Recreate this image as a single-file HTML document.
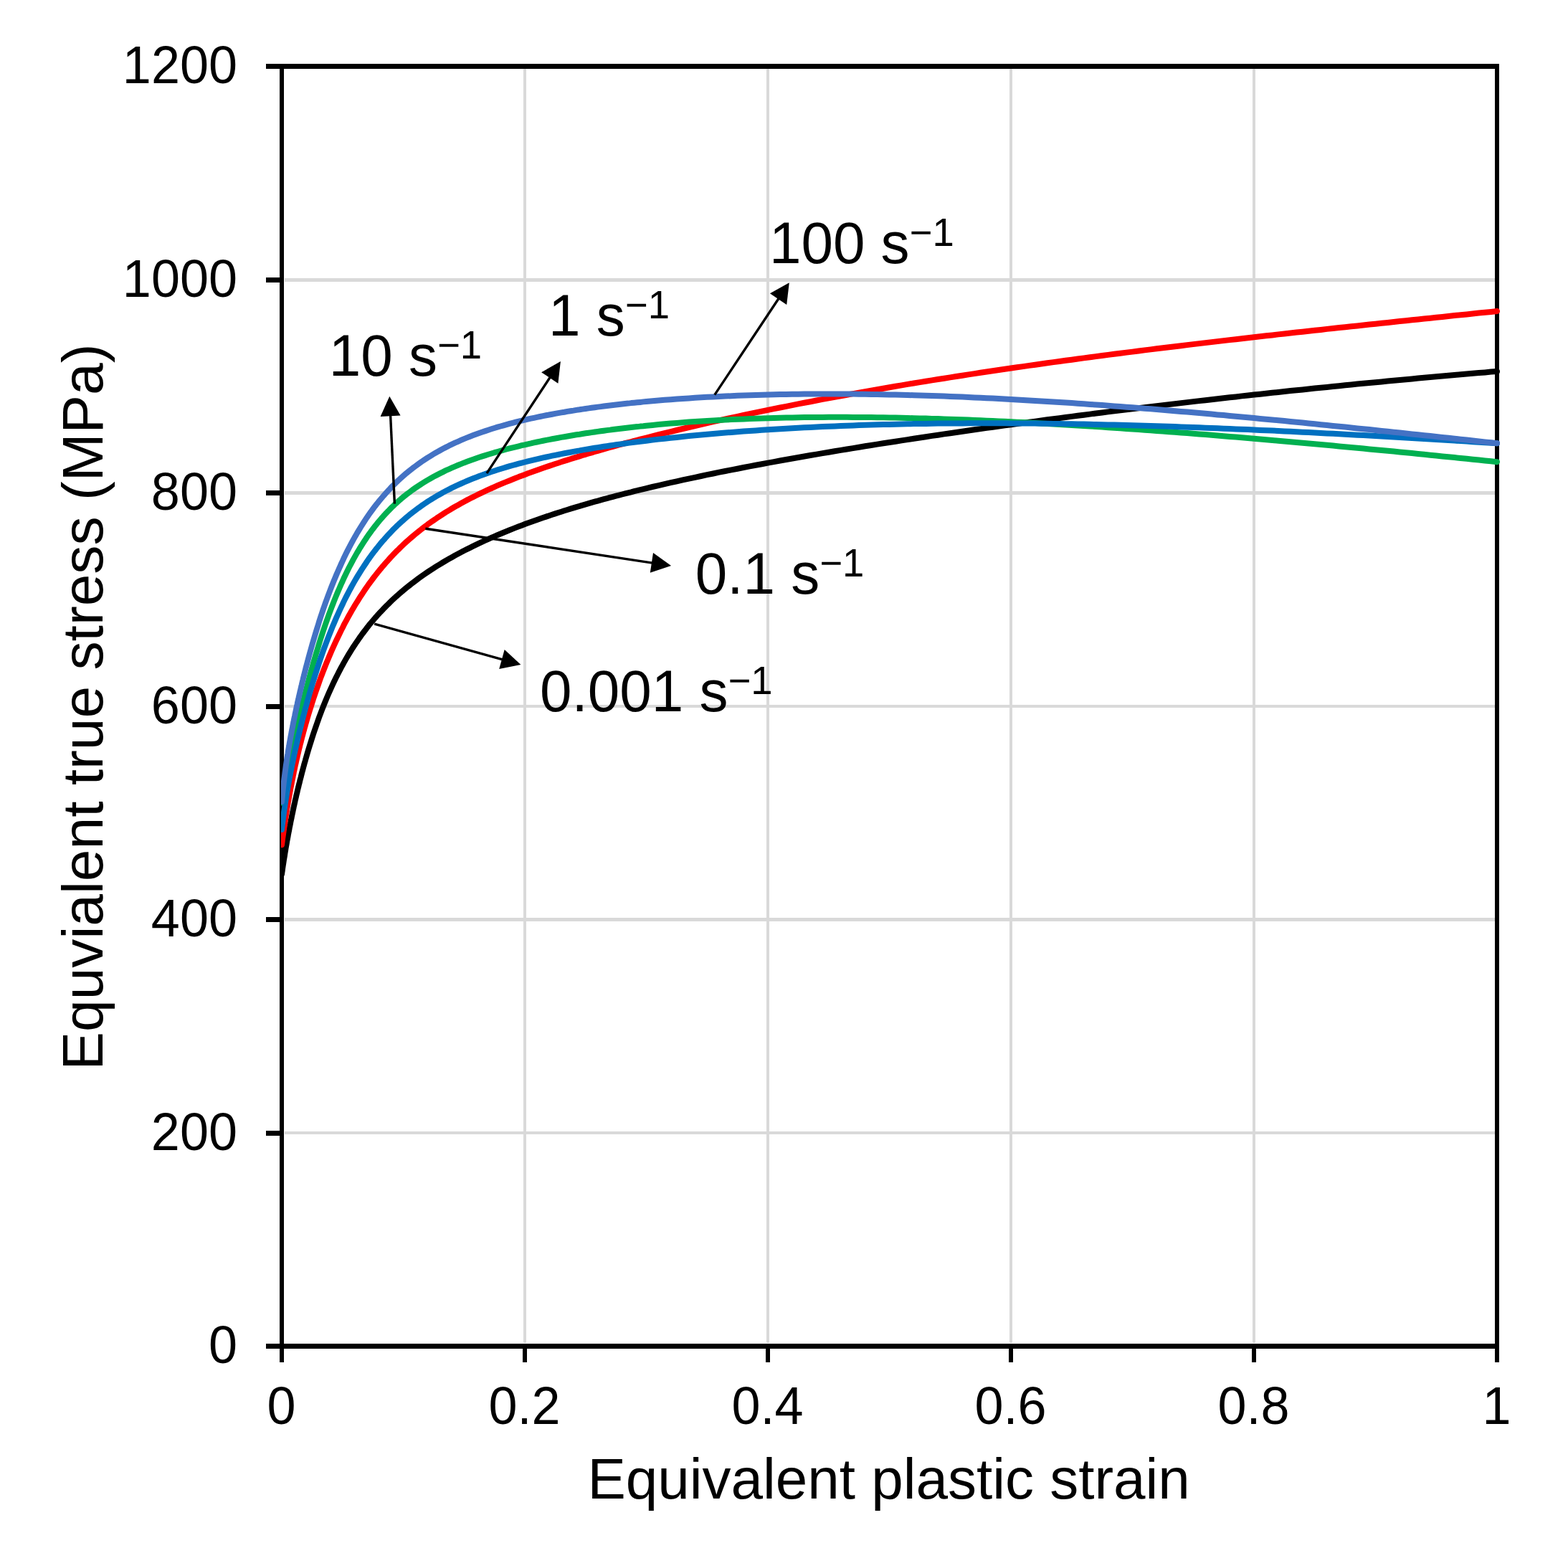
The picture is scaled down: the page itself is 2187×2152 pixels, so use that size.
<!DOCTYPE html>
<html lang="en"><head><meta charset="utf-8"><title>Equivalent true stress vs equivalent plastic strain</title>
<style>html,body{margin:0;padding:0;background:#fff}svg{display:block}text{font-family:"Liberation Sans",Arial,Helvetica,sans-serif;fill:#000}</style></head><body>
<svg xmlns="http://www.w3.org/2000/svg" width="2187" height="2152" viewBox="0 0 2187 2152">
<rect width="2187" height="2152" fill="#fff"/>
<g fill="#D9D9D9">
<rect x="397" y="1578" width="1688" height="4"/>
<rect x="397" y="1280" width="1688" height="5"/>
<rect x="397" y="983" width="1688" height="4"/>
<rect x="397" y="685" width="1688" height="5"/>
<rect x="397" y="388" width="1688" height="5"/>
<rect x="730" y="96" width="4" height="1777"/>
<rect x="1069" y="96" width="4" height="1777"/>
<rect x="1408" y="96" width="4" height="1777"/>
<rect x="1747" y="96" width="4" height="1777"/>
</g>
<g fill="#000">
<rect x="390" y="89" width="1701" height="7"/>
<rect x="390" y="1874" width="1701" height="7"/>
<rect x="390" y="89" width="6" height="1792"/>
<rect x="2085" y="89" width="6" height="1792"/>
<rect x="371" y="1874" width="20" height="7"/>
<rect x="371" y="1577" width="20" height="7"/>
<rect x="371" y="1279" width="20" height="7"/>
<rect x="371" y="982" width="20" height="7"/>
<rect x="371" y="684" width="20" height="7"/>
<rect x="371" y="387" width="20" height="7"/>
<rect x="371" y="89" width="20" height="7"/>
<rect x="390" y="1880" width="6" height="20"/>
<rect x="729" y="1880" width="6" height="20"/>
<rect x="1068" y="1880" width="6" height="20"/>
<rect x="1407" y="1880" width="6" height="20"/>
<rect x="1746" y="1880" width="6" height="20"/>
<rect x="2085" y="1880" width="6" height="20"/>
</g>
<clipPath id="c"><rect x="392" y="80" width="1710" height="1800"/></clipPath>
<g fill="none" stroke-width="8.0" stroke-linejoin="round" stroke-linecap="round" clip-path="url(#c)">
<path stroke="#000000" d="M393.0 1219.1 L393.6 1215.2 L394.1 1211.3 L394.7 1207.5 L395.3 1203.7 L395.8 1200.1 L396.4 1196.5 L397.0 1193.0 L397.5 1189.5 L398.1 1186.1 L398.6 1182.7 L399.2 1179.5 L399.8 1176.2 L400.3 1173.0 L400.9 1169.9 L401.5 1166.8 L402.0 1163.7 L402.6 1160.7 L403.2 1157.7 L403.7 1154.8 L404.3 1151.9 L404.9 1149.0 L405.4 1146.1 L406.0 1143.3 L406.6 1140.6 L407.1 1137.8 L407.7 1135.1 L408.3 1132.4 L408.8 1129.8 L409.4 1127.2 L409.9 1124.6 L410.5 1122.0 L411.1 1119.4 L411.6 1116.9 L412.2 1114.4 L412.8 1111.9 L413.3 1109.5 L413.9 1107.1 L414.5 1104.7 L415.0 1102.3 L415.6 1099.9 L416.2 1097.6 L416.7 1095.3 L417.3 1093.0 L417.9 1090.7 L418.4 1088.4 L419.0 1086.2 L419.6 1084.0 L420.1 1081.8 L420.7 1079.6 L421.2 1077.4 L421.8 1075.3 L422.4 1073.2 L422.9 1071.1 L423.5 1069.0 L424.1 1066.9 L424.6 1064.8 L425.2 1062.8 L425.8 1060.8 L426.3 1058.8 L426.9 1056.8 L428.6 1050.9 L430.3 1045.2 L432.0 1039.6 L433.7 1034.2 L435.4 1028.8 L437.1 1023.6 L438.8 1018.5 L440.5 1013.6 L442.2 1008.7 L443.9 1003.9 L445.5 999.3 L447.2 994.8 L448.9 990.3 L450.6 986.0 L452.3 981.7 L454.0 977.6 L455.7 973.5 L457.4 969.5 L459.1 965.6 L460.8 961.8 L462.5 958.1 L464.2 954.4 L465.9 950.8 L467.6 947.3 L469.3 943.8 L471.0 940.5 L472.7 937.2 L474.4 933.9 L476.1 930.7 L477.8 927.6 L479.4 924.6 L481.1 921.6 L482.8 918.6 L484.5 915.7 L486.2 912.9 L487.9 910.1 L489.6 907.4 L491.3 904.7 L493.0 902.0 L494.7 899.5 L496.4 896.9 L498.1 894.4 L499.8 892.0 L501.5 889.5 L503.2 887.2 L504.9 884.8 L506.6 882.5 L508.3 880.3 L510.0 878.1 L511.6 875.9 L513.3 873.7 L515.0 871.6 L516.7 869.5 L518.4 867.5 L520.1 865.5 L521.8 863.5 L523.5 861.5 L525.2 859.6 L526.9 857.7 L528.6 855.8 L530.3 854.0 L532.0 852.2 L533.7 850.4 L535.4 848.6 L537.1 846.9 L538.8 845.2 L540.5 843.5 L542.2 841.8 L543.9 840.1 L545.5 838.5 L547.2 836.9 L548.9 835.3 L550.6 833.8 L552.3 832.2 L554.0 830.7 L555.7 829.2 L557.4 827.7 L559.1 826.3 L560.8 824.8 L562.5 823.4 L566.7 819.9 L571.0 816.5 L575.2 813.2 L579.5 810.0 L583.7 806.8 L587.9 803.8 L592.2 800.8 L596.4 797.9 L600.6 795.1 L604.9 792.4 L609.1 789.7 L613.4 787.1 L617.6 784.5 L621.8 782.0 L626.1 779.6 L630.3 777.2 L634.5 774.8 L638.8 772.5 L643.0 770.3 L647.2 768.0 L651.5 765.9 L655.7 763.8 L660.0 761.7 L664.2 759.6 L668.4 757.6 L672.7 755.6 L676.9 753.7 L681.1 751.8 L685.4 749.9 L689.6 748.1 L693.9 746.2 L698.1 744.5 L702.3 742.7 L706.6 741.0 L710.8 739.3 L715.0 737.6 L719.3 735.9 L723.5 734.3 L727.8 732.7 L732.0 731.1 L736.2 729.5 L740.5 728.0 L744.7 726.5 L749.0 725.0 L753.2 723.5 L757.4 722.0 L761.7 720.6 L765.9 719.2 L770.1 717.8 L774.4 716.4 L778.6 715.0 L782.8 713.7 L787.1 712.3 L791.3 711.0 L795.6 709.7 L799.8 708.4 L804.0 707.1 L808.3 705.9 L812.5 704.6 L816.8 703.4 L821.0 702.2 L825.2 700.9 L829.5 699.7 L833.7 698.6 L837.9 697.4 L842.2 696.2 L846.4 695.1 L850.7 693.9 L854.9 692.8 L859.1 691.7 L863.4 690.6 L867.6 689.5 L871.8 688.4 L876.1 687.3 L880.3 686.3 L884.5 685.2 L888.8 684.2 L893.0 683.1 L897.3 682.1 L901.5 681.1 L910.0 679.0 L918.5 677.1 L926.9 675.1 L935.4 673.2 L943.9 671.3 L952.3 669.4 L960.8 667.6 L969.3 665.8 L977.8 664.0 L986.2 662.2 L994.7 660.5 L1003.2 658.7 L1011.7 657.0 L1020.1 655.3 L1028.6 653.7 L1037.1 652.0 L1045.6 650.4 L1054.1 648.8 L1062.5 647.2 L1071.0 645.6 L1079.5 644.1 L1087.9 642.5 L1096.4 641.0 L1104.9 639.5 L1113.4 638.0 L1121.8 636.5 L1130.3 635.0 L1138.8 633.6 L1147.3 632.1 L1155.8 630.7 L1164.2 629.3 L1172.7 627.9 L1181.2 626.5 L1189.7 625.1 L1198.1 623.7 L1206.6 622.3 L1215.1 621.0 L1223.5 619.6 L1232.0 618.3 L1240.5 617.0 L1249.0 615.7 L1257.5 614.4 L1265.9 613.1 L1274.4 611.8 L1282.9 610.5 L1291.3 609.2 L1299.8 607.9 L1308.3 606.7 L1316.8 605.4 L1325.2 604.2 L1333.7 603.0 L1342.2 601.7 L1350.7 600.5 L1359.2 599.3 L1367.6 598.1 L1376.1 596.9 L1384.6 595.7 L1393.0 594.5 L1401.5 593.4 L1410.0 592.2 L1418.5 591.0 L1427.0 589.9 L1435.4 588.7 L1443.9 587.6 L1452.4 586.5 L1460.8 585.3 L1469.3 584.2 L1477.8 583.1 L1486.3 582.0 L1494.8 580.9 L1503.2 579.8 L1511.7 578.7 L1520.2 577.6 L1528.6 576.5 L1537.1 575.5 L1545.6 574.4 L1554.1 573.3 L1562.5 572.3 L1571.0 571.2 L1579.5 570.2 L1588.0 569.2 L1596.5 568.1 L1604.9 567.1 L1613.4 566.1 L1621.9 565.1 L1630.3 564.1 L1638.8 563.1 L1647.3 562.1 L1655.8 561.1 L1664.2 560.1 L1672.7 559.1 L1681.2 558.2 L1689.7 557.2 L1698.2 556.2 L1706.6 555.3 L1715.1 554.3 L1723.6 553.4 L1732.0 552.4 L1740.5 551.5 L1749.0 550.6 L1757.5 549.7 L1766.0 548.7 L1774.4 547.8 L1782.9 546.9 L1791.4 546.0 L1799.9 545.1 L1808.3 544.2 L1816.8 543.4 L1825.3 542.5 L1833.8 541.6 L1842.2 540.7 L1850.7 539.9 L1859.2 539.0 L1867.7 538.2 L1876.1 537.3 L1884.6 536.5 L1893.1 535.6 L1901.5 534.8 L1910.0 534.0 L1918.5 533.2 L1927.0 532.4 L1935.4 531.6 L1943.9 530.8 L1952.4 530.0 L1960.9 529.2 L1969.3 528.4 L1977.8 527.6 L1986.3 526.8 L1994.8 526.1 L2003.2 525.3 L2011.7 524.5 L2020.2 523.8 L2028.7 523.0 L2037.1 522.3 L2045.6 521.5 L2054.1 520.8 L2062.6 520.1 L2071.1 519.4 L2079.5 518.6 L2088.0 517.9"/>
<path stroke="#FF0000" d="M393.0 1178.2 L393.6 1173.9 L394.1 1169.7 L394.7 1165.5 L395.3 1161.5 L395.8 1157.5 L396.4 1153.6 L397.0 1149.7 L397.5 1146.0 L398.1 1142.2 L398.6 1138.6 L399.2 1135.0 L399.8 1131.5 L400.3 1128.0 L400.9 1124.6 L401.5 1121.3 L402.0 1118.0 L402.6 1114.7 L403.2 1111.5 L403.7 1108.4 L404.3 1105.3 L404.9 1102.2 L405.4 1099.2 L406.0 1096.2 L406.6 1093.3 L407.1 1090.4 L407.7 1087.6 L408.3 1084.7 L408.8 1082.0 L409.4 1079.2 L409.9 1076.5 L410.5 1073.8 L411.1 1071.2 L411.6 1068.6 L412.2 1066.0 L412.8 1063.5 L413.3 1061.0 L413.9 1058.5 L414.5 1056.0 L415.0 1053.6 L415.6 1051.2 L416.2 1048.8 L416.7 1046.4 L417.3 1044.1 L417.9 1041.8 L418.4 1039.5 L419.0 1037.3 L419.6 1035.0 L420.1 1032.8 L420.7 1030.6 L421.2 1028.4 L421.8 1026.3 L422.4 1024.2 L422.9 1022.1 L423.5 1020.0 L424.1 1017.9 L424.6 1015.8 L425.2 1013.8 L425.8 1011.8 L426.3 1009.8 L426.9 1007.8 L428.6 1001.9 L430.3 996.2 L432.0 990.6 L433.7 985.2 L435.4 979.8 L437.1 974.6 L438.8 969.5 L440.5 964.5 L442.2 959.6 L443.9 954.8 L445.5 950.2 L447.2 945.5 L448.9 941.0 L450.6 936.6 L452.3 932.2 L454.0 928.0 L455.7 923.8 L457.4 919.7 L459.1 915.6 L460.8 911.6 L462.5 907.7 L464.2 903.9 L465.9 900.1 L467.6 896.4 L469.3 892.8 L471.0 889.2 L472.7 885.7 L474.4 882.2 L476.1 878.8 L477.8 875.5 L479.4 872.2 L481.1 868.9 L482.8 865.8 L484.5 862.6 L486.2 859.5 L487.9 856.5 L489.6 853.5 L491.3 850.6 L493.0 847.7 L494.7 844.8 L496.4 842.0 L498.1 839.3 L499.8 836.6 L501.5 833.9 L503.2 831.2 L504.9 828.7 L506.6 826.1 L508.3 823.6 L510.0 821.1 L511.6 818.7 L513.3 816.3 L515.0 813.9 L516.7 811.6 L518.4 809.3 L520.1 807.0 L521.8 804.8 L523.5 802.6 L525.2 800.4 L526.9 798.3 L528.6 796.2 L530.3 794.1 L532.0 792.1 L533.7 790.0 L535.4 788.1 L537.1 786.1 L538.8 784.2 L540.5 782.3 L542.2 780.4 L543.9 778.5 L545.5 776.7 L547.2 774.9 L548.9 773.1 L550.6 771.4 L552.3 769.6 L554.0 767.9 L555.7 766.3 L557.4 764.6 L559.1 762.9 L560.8 761.3 L562.5 759.7 L566.7 755.8 L571.0 752.0 L575.2 748.4 L579.5 744.8 L583.7 741.4 L587.9 738.0 L592.2 734.8 L596.4 731.6 L600.6 728.6 L604.9 725.6 L609.1 722.7 L613.4 719.9 L617.6 717.1 L621.8 714.4 L626.1 711.8 L630.3 709.3 L634.5 706.8 L638.8 704.4 L643.0 702.0 L647.2 699.7 L651.5 697.4 L655.7 695.2 L660.0 693.1 L664.2 691.0 L668.4 688.9 L672.7 686.8 L676.9 684.9 L681.1 682.9 L685.4 681.0 L689.6 679.1 L693.9 677.2 L698.1 675.4 L702.3 673.6 L706.6 671.9 L710.8 670.2 L715.0 668.5 L719.3 666.8 L723.5 665.1 L727.8 663.5 L732.0 661.9 L736.2 660.3 L740.5 658.8 L744.7 657.3 L749.0 655.7 L753.2 654.2 L757.4 652.8 L761.7 651.3 L765.9 649.9 L770.1 648.5 L774.4 647.0 L778.6 645.7 L782.8 644.3 L787.1 642.9 L791.3 641.6 L795.6 640.2 L799.8 638.9 L804.0 637.6 L808.3 636.3 L812.5 635.0 L816.8 633.8 L821.0 632.5 L825.2 631.3 L829.5 630.0 L833.7 628.8 L837.9 627.6 L842.2 626.4 L846.4 625.2 L850.7 624.0 L854.9 622.9 L859.1 621.7 L863.4 620.5 L867.6 619.4 L871.8 618.2 L876.1 617.1 L880.3 616.0 L884.5 614.9 L888.8 613.8 L893.0 612.7 L897.3 611.6 L901.5 610.5 L910.0 608.3 L918.5 606.2 L926.9 604.1 L935.4 602.1 L943.9 600.0 L952.3 598.0 L960.8 596.0 L969.3 594.0 L977.8 592.1 L986.2 590.1 L994.7 588.2 L1003.2 586.3 L1011.7 584.5 L1020.1 582.6 L1028.6 580.8 L1037.1 579.0 L1045.6 577.2 L1054.1 575.4 L1062.5 573.7 L1071.0 571.9 L1079.5 570.2 L1087.9 568.5 L1096.4 566.8 L1104.9 565.1 L1113.4 563.4 L1121.8 561.8 L1130.3 560.2 L1138.8 558.5 L1147.3 556.9 L1155.8 555.4 L1164.2 553.8 L1172.7 552.2 L1181.2 550.7 L1189.7 549.1 L1198.1 547.6 L1206.6 546.1 L1215.1 544.6 L1223.5 543.2 L1232.0 541.7 L1240.5 540.2 L1249.0 538.8 L1257.5 537.4 L1265.9 535.9 L1274.4 534.5 L1282.9 533.1 L1291.3 531.8 L1299.8 530.4 L1308.3 529.0 L1316.8 527.7 L1325.2 526.4 L1333.7 525.0 L1342.2 523.7 L1350.7 522.4 L1359.2 521.1 L1367.6 519.8 L1376.1 518.5 L1384.6 517.3 L1393.0 516.0 L1401.5 514.8 L1410.0 513.5 L1418.5 512.3 L1427.0 511.1 L1435.4 509.9 L1443.9 508.7 L1452.4 507.5 L1460.8 506.3 L1469.3 505.1 L1477.8 504.0 L1486.3 502.8 L1494.8 501.7 L1503.2 500.5 L1511.7 499.4 L1520.2 498.3 L1528.6 497.1 L1537.1 496.0 L1545.6 494.9 L1554.1 493.8 L1562.5 492.7 L1571.0 491.6 L1579.5 490.6 L1588.0 489.5 L1596.5 488.4 L1604.9 487.4 L1613.4 486.3 L1621.9 485.3 L1630.3 484.2 L1638.8 483.2 L1647.3 482.2 L1655.8 481.1 L1664.2 480.1 L1672.7 479.1 L1681.2 478.1 L1689.7 477.1 L1698.2 476.1 L1706.6 475.1 L1715.1 474.1 L1723.6 473.2 L1732.0 472.2 L1740.5 471.2 L1749.0 470.2 L1757.5 469.3 L1766.0 468.3 L1774.4 467.4 L1782.9 466.4 L1791.4 465.5 L1799.9 464.5 L1808.3 463.6 L1816.8 462.7 L1825.3 461.7 L1833.8 460.8 L1842.2 459.9 L1850.7 458.9 L1859.2 458.0 L1867.7 457.1 L1876.1 456.2 L1884.6 455.3 L1893.1 454.4 L1901.5 453.5 L1910.0 452.6 L1918.5 451.7 L1927.0 450.8 L1935.4 449.9 L1943.9 449.0 L1952.4 448.1 L1960.9 447.2 L1969.3 446.3 L1977.8 445.4 L1986.3 444.5 L1994.8 443.7 L2003.2 442.8 L2011.7 441.9 L2020.2 441.0 L2028.7 440.1 L2037.1 439.3 L2045.6 438.4 L2054.1 437.5 L2062.6 436.6 L2071.1 435.8 L2079.5 434.9 L2088.0 434.0"/>
<path stroke="#00B050" d="M393.0 1119.7 L393.6 1116.7 L394.1 1113.7 L394.7 1110.7 L395.3 1107.7 L395.8 1104.7 L396.4 1101.8 L397.0 1098.8 L397.5 1095.9 L398.1 1093.0 L398.6 1090.1 L399.2 1087.2 L399.8 1084.3 L400.3 1081.5 L400.9 1078.6 L401.5 1075.8 L402.0 1073.0 L402.6 1070.2 L403.2 1067.4 L403.7 1064.6 L404.3 1061.8 L404.9 1059.1 L405.4 1056.3 L406.0 1053.6 L406.6 1050.9 L407.1 1048.2 L407.7 1045.5 L408.3 1042.9 L408.8 1040.2 L409.4 1037.6 L409.9 1034.9 L410.5 1032.3 L411.1 1029.7 L411.6 1027.1 L412.2 1024.6 L412.8 1022.0 L413.3 1019.4 L413.9 1016.9 L414.5 1014.4 L415.0 1011.9 L415.6 1009.4 L416.2 1006.9 L416.7 1004.5 L417.3 1002.0 L417.9 999.6 L418.4 997.2 L419.0 994.7 L419.6 992.4 L420.1 990.0 L420.7 987.6 L421.2 985.3 L421.8 982.9 L422.4 980.6 L422.9 978.3 L423.5 976.0 L424.1 973.7 L424.6 971.4 L425.2 969.1 L425.8 966.9 L426.3 964.7 L426.9 962.4 L428.6 955.9 L430.3 949.4 L432.0 943.1 L433.7 936.8 L435.4 930.7 L437.1 924.7 L438.8 918.8 L440.5 913.0 L442.2 907.3 L443.9 901.8 L445.5 896.3 L447.2 890.9 L448.9 885.7 L450.6 880.5 L452.3 875.4 L454.0 870.5 L455.7 865.6 L457.4 860.9 L459.1 856.2 L460.8 851.6 L462.5 847.1 L464.2 842.7 L465.9 838.4 L467.6 834.1 L469.3 830.0 L471.0 825.9 L472.7 822.0 L474.4 818.0 L476.1 814.2 L477.8 810.5 L479.4 806.8 L481.1 803.2 L482.8 799.7 L484.5 796.2 L486.2 792.8 L487.9 789.5 L489.6 786.3 L491.3 783.1 L493.0 779.9 L494.7 776.9 L496.4 773.9 L498.1 770.9 L499.8 768.1 L501.5 765.2 L503.2 762.5 L504.9 759.8 L506.6 757.1 L508.3 754.5 L510.0 752.0 L511.6 749.5 L513.3 747.0 L515.0 744.6 L516.7 742.3 L518.4 739.9 L520.1 737.7 L521.8 735.5 L523.5 733.3 L525.2 731.2 L526.9 729.1 L528.6 727.0 L530.3 725.0 L532.0 723.0 L533.7 721.1 L535.4 719.2 L537.1 717.3 L538.8 715.5 L540.5 713.7 L542.2 712.0 L543.9 710.2 L545.5 708.5 L547.2 706.9 L548.9 705.3 L550.6 703.7 L552.3 702.1 L554.0 700.5 L555.7 699.0 L557.4 697.5 L559.1 696.1 L560.8 694.6 L562.5 693.2 L566.7 689.8 L571.0 686.6 L575.2 683.4 L579.5 680.4 L583.7 677.6 L587.9 674.8 L592.2 672.2 L596.4 669.6 L600.6 667.2 L604.9 664.8 L609.1 662.6 L613.4 660.4 L617.6 658.3 L621.8 656.2 L626.1 654.3 L630.3 652.4 L634.5 650.6 L638.8 648.8 L643.0 647.1 L647.2 645.4 L651.5 643.8 L655.7 642.2 L660.0 640.7 L664.2 639.2 L668.4 637.8 L672.7 636.4 L676.9 635.1 L681.1 633.8 L685.4 632.5 L689.6 631.2 L693.9 630.0 L698.1 628.8 L702.3 627.7 L706.6 626.5 L710.8 625.4 L715.0 624.3 L719.3 623.3 L723.5 622.3 L727.8 621.2 L732.0 620.3 L736.2 619.3 L740.5 618.4 L744.7 617.4 L749.0 616.5 L753.2 615.6 L757.4 614.8 L761.7 613.9 L765.9 613.1 L770.1 612.3 L774.4 611.5 L778.6 610.7 L782.8 609.9 L787.1 609.2 L791.3 608.5 L795.6 607.7 L799.8 607.0 L804.0 606.3 L808.3 605.7 L812.5 605.0 L816.8 604.3 L821.0 603.7 L825.2 603.1 L829.5 602.5 L833.7 601.9 L837.9 601.3 L842.2 600.7 L846.4 600.1 L850.7 599.6 L854.9 599.0 L859.1 598.5 L863.4 598.0 L867.6 597.5 L871.8 597.0 L876.1 596.5 L880.3 596.0 L884.5 595.5 L888.8 595.1 L893.0 594.6 L897.3 594.2 L901.5 593.7 L910.0 592.9 L918.5 592.1 L926.9 591.3 L935.4 590.6 L943.9 589.9 L952.3 589.3 L960.8 588.6 L969.3 588.0 L977.8 587.5 L986.2 587.0 L994.7 586.4 L1003.2 586.0 L1011.7 585.5 L1020.1 585.1 L1028.6 584.7 L1037.1 584.4 L1045.6 584.0 L1054.1 583.7 L1062.5 583.4 L1071.0 583.2 L1079.5 582.9 L1087.9 582.7 L1096.4 582.5 L1104.9 582.4 L1113.4 582.2 L1121.8 582.1 L1130.3 582.0 L1138.8 581.9 L1147.3 581.9 L1155.8 581.8 L1164.2 581.8 L1172.7 581.8 L1181.2 581.8 L1189.7 581.9 L1198.1 581.9 L1206.6 582.0 L1215.1 582.1 L1223.5 582.2 L1232.0 582.3 L1240.5 582.5 L1249.0 582.6 L1257.5 582.8 L1265.9 583.0 L1274.4 583.2 L1282.9 583.4 L1291.3 583.6 L1299.8 583.9 L1308.3 584.1 L1316.8 584.4 L1325.2 584.7 L1333.7 585.0 L1342.2 585.3 L1350.7 585.6 L1359.2 586.0 L1367.6 586.3 L1376.1 586.7 L1384.6 587.1 L1393.0 587.4 L1401.5 587.8 L1410.0 588.3 L1418.5 588.7 L1427.0 589.1 L1435.4 589.5 L1443.9 590.0 L1452.4 590.5 L1460.8 590.9 L1469.3 591.4 L1477.8 591.9 L1486.3 592.4 L1494.8 592.9 L1503.2 593.4 L1511.7 594.0 L1520.2 594.5 L1528.6 595.0 L1537.1 595.6 L1545.6 596.2 L1554.1 596.7 L1562.5 597.3 L1571.0 597.9 L1579.5 598.5 L1588.0 599.1 L1596.5 599.7 L1604.9 600.3 L1613.4 600.9 L1621.9 601.6 L1630.3 602.2 L1638.8 602.8 L1647.3 603.5 L1655.8 604.1 L1664.2 604.8 L1672.7 605.5 L1681.2 606.1 L1689.7 606.8 L1698.2 607.5 L1706.6 608.2 L1715.1 608.9 L1723.6 609.6 L1732.0 610.3 L1740.5 611.0 L1749.0 611.8 L1757.5 612.5 L1766.0 613.2 L1774.4 613.9 L1782.9 614.7 L1791.4 615.4 L1799.9 616.2 L1808.3 616.9 L1816.8 617.7 L1825.3 618.5 L1833.8 619.2 L1842.2 620.0 L1850.7 620.8 L1859.2 621.6 L1867.7 622.4 L1876.1 623.2 L1884.6 624.0 L1893.1 624.8 L1901.5 625.6 L1910.0 626.4 L1918.5 627.2 L1927.0 628.0 L1935.4 628.8 L1943.9 629.6 L1952.4 630.5 L1960.9 631.3 L1969.3 632.1 L1977.8 633.0 L1986.3 633.8 L1994.8 634.7 L2003.2 635.5 L2011.7 636.4 L2020.2 637.2 L2028.7 638.1 L2037.1 639.0 L2045.6 639.8 L2054.1 640.7 L2062.6 641.6 L2071.1 642.4 L2079.5 643.3 L2088.0 644.2"/>
<path stroke="#0070C0" d="M393.0 1157.0 L393.6 1152.2 L394.1 1147.6 L394.7 1143.1 L395.3 1138.7 L395.8 1134.5 L396.4 1130.5 L397.0 1126.5 L397.5 1122.6 L398.1 1118.9 L398.6 1115.2 L399.2 1111.7 L399.8 1108.2 L400.3 1104.7 L400.9 1101.4 L401.5 1098.1 L402.0 1094.9 L402.6 1091.7 L403.2 1088.6 L403.7 1085.5 L404.3 1082.5 L404.9 1079.6 L405.4 1076.6 L406.0 1073.8 L406.6 1070.9 L407.1 1068.1 L407.7 1065.3 L408.3 1062.6 L408.8 1059.9 L409.4 1057.2 L409.9 1054.5 L410.5 1051.9 L411.1 1049.3 L411.6 1046.8 L412.2 1044.2 L412.8 1041.7 L413.3 1039.2 L413.9 1036.7 L414.5 1034.2 L415.0 1031.8 L415.6 1029.4 L416.2 1027.0 L416.7 1024.6 L417.3 1022.3 L417.9 1019.9 L418.4 1017.6 L419.0 1015.3 L419.6 1013.0 L420.1 1010.8 L420.7 1008.5 L421.2 1006.3 L421.8 1004.0 L422.4 1001.8 L422.9 999.7 L423.5 997.5 L424.1 995.3 L424.6 993.2 L425.2 991.1 L425.8 988.9 L426.3 986.8 L426.9 984.8 L428.6 978.6 L430.3 972.5 L432.0 966.6 L433.7 960.8 L435.4 955.1 L437.1 949.5 L438.8 944.0 L440.5 938.7 L442.2 933.4 L443.9 928.2 L445.5 923.1 L447.2 918.1 L448.9 913.2 L450.6 908.4 L452.3 903.7 L454.0 899.1 L455.7 894.6 L457.4 890.1 L459.1 885.8 L460.8 881.5 L462.5 877.3 L464.2 873.1 L465.9 869.1 L467.6 865.1 L469.3 861.2 L471.0 857.4 L472.7 853.6 L474.4 849.9 L476.1 846.3 L477.8 842.7 L479.4 839.2 L481.1 835.8 L482.8 832.4 L484.5 829.1 L486.2 825.9 L487.9 822.7 L489.6 819.5 L491.3 816.4 L493.0 813.4 L494.7 810.4 L496.4 807.5 L498.1 804.7 L499.8 801.8 L501.5 799.1 L503.2 796.4 L504.9 793.7 L506.6 791.1 L508.3 788.5 L510.0 786.0 L511.6 783.5 L513.3 781.0 L515.0 778.6 L516.7 776.2 L518.4 773.9 L520.1 771.6 L521.8 769.4 L523.5 767.2 L525.2 765.0 L526.9 762.9 L528.6 760.8 L530.3 758.7 L532.0 756.7 L533.7 754.7 L535.4 752.8 L537.1 750.8 L538.8 748.9 L540.5 747.1 L542.2 745.2 L543.9 743.4 L545.5 741.7 L547.2 739.9 L548.9 738.2 L550.6 736.5 L552.3 734.9 L554.0 733.2 L555.7 731.6 L557.4 730.0 L559.1 728.5 L560.8 726.9 L562.5 725.4 L566.7 721.8 L571.0 718.2 L575.2 714.9 L579.5 711.6 L583.7 708.4 L587.9 705.4 L592.2 702.5 L596.4 699.7 L600.6 697.0 L604.9 694.4 L609.1 691.8 L613.4 689.4 L617.6 687.0 L621.8 684.8 L626.1 682.6 L630.3 680.4 L634.5 678.4 L638.8 676.4 L643.0 674.5 L647.2 672.6 L651.5 670.8 L655.7 669.0 L660.0 667.3 L664.2 665.7 L668.4 664.0 L672.7 662.5 L676.9 661.0 L681.1 659.5 L685.4 658.0 L689.6 656.7 L693.9 655.3 L698.1 654.0 L702.3 652.7 L706.6 651.4 L710.8 650.2 L715.0 649.0 L719.3 647.8 L723.5 646.7 L727.8 645.6 L732.0 644.5 L736.2 643.4 L740.5 642.4 L744.7 641.4 L749.0 640.4 L753.2 639.4 L757.4 638.4 L761.7 637.5 L765.9 636.6 L770.1 635.7 L774.4 634.8 L778.6 634.0 L782.8 633.1 L787.1 632.3 L791.3 631.5 L795.6 630.7 L799.8 629.9 L804.0 629.1 L808.3 628.4 L812.5 627.6 L816.8 626.9 L821.0 626.2 L825.2 625.5 L829.5 624.8 L833.7 624.1 L837.9 623.5 L842.2 622.8 L846.4 622.2 L850.7 621.5 L854.9 620.9 L859.1 620.3 L863.4 619.7 L867.6 619.1 L871.8 618.5 L876.1 617.9 L880.3 617.4 L884.5 616.8 L888.8 616.3 L893.0 615.7 L897.3 615.2 L901.5 614.7 L910.0 613.6 L918.5 612.6 L926.9 611.7 L935.4 610.8 L943.9 609.9 L952.3 609.0 L960.8 608.1 L969.3 607.3 L977.8 606.5 L986.2 605.7 L994.7 605.0 L1003.2 604.3 L1011.7 603.6 L1020.1 602.9 L1028.6 602.2 L1037.1 601.6 L1045.6 601.0 L1054.1 600.4 L1062.5 599.8 L1071.0 599.2 L1079.5 598.7 L1087.9 598.2 L1096.4 597.7 L1104.9 597.2 L1113.4 596.7 L1121.8 596.3 L1130.3 595.9 L1138.8 595.5 L1147.3 595.1 L1155.8 594.7 L1164.2 594.4 L1172.7 594.0 L1181.2 593.7 L1189.7 593.4 L1198.1 593.1 L1206.6 592.8 L1215.1 592.6 L1223.5 592.3 L1232.0 592.1 L1240.5 591.9 L1249.0 591.7 L1257.5 591.5 L1265.9 591.3 L1274.4 591.1 L1282.9 591.0 L1291.3 590.9 L1299.8 590.8 L1308.3 590.6 L1316.8 590.6 L1325.2 590.5 L1333.7 590.4 L1342.2 590.4 L1350.7 590.3 L1359.2 590.3 L1367.6 590.3 L1376.1 590.3 L1384.6 590.3 L1393.0 590.3 L1401.5 590.3 L1410.0 590.4 L1418.5 590.4 L1427.0 590.5 L1435.4 590.5 L1443.9 590.6 L1452.4 590.7 L1460.8 590.8 L1469.3 590.9 L1477.8 591.1 L1486.3 591.2 L1494.8 591.3 L1503.2 591.5 L1511.7 591.6 L1520.2 591.8 L1528.6 592.0 L1537.1 592.2 L1545.6 592.4 L1554.1 592.6 L1562.5 592.8 L1571.0 593.0 L1579.5 593.3 L1588.0 593.5 L1596.5 593.8 L1604.9 594.0 L1613.4 594.3 L1621.9 594.5 L1630.3 594.8 L1638.8 595.1 L1647.3 595.4 L1655.8 595.7 L1664.2 596.0 L1672.7 596.3 L1681.2 596.7 L1689.7 597.0 L1698.2 597.3 L1706.6 597.7 L1715.1 598.0 L1723.6 598.4 L1732.0 598.7 L1740.5 599.1 L1749.0 599.5 L1757.5 599.9 L1766.0 600.2 L1774.4 600.6 L1782.9 601.0 L1791.4 601.4 L1799.9 601.8 L1808.3 602.3 L1816.8 602.7 L1825.3 603.1 L1833.8 603.5 L1842.2 604.0 L1850.7 604.4 L1859.2 604.8 L1867.7 605.3 L1876.1 605.7 L1884.6 606.2 L1893.1 606.7 L1901.5 607.1 L1910.0 607.6 L1918.5 608.1 L1927.0 608.6 L1935.4 609.0 L1943.9 609.5 L1952.4 610.0 L1960.9 610.5 L1969.3 611.0 L1977.8 611.5 L1986.3 612.0 L1994.8 612.5 L2003.2 613.0 L2011.7 613.6 L2020.2 614.1 L2028.7 614.6 L2037.1 615.1 L2045.6 615.6 L2054.1 616.2 L2062.6 616.7 L2071.1 617.2 L2079.5 617.8 L2088.0 618.3"/>
<path stroke="#4472C4" d="M393.0 1118.1 L393.6 1112.2 L394.1 1106.6 L394.7 1101.3 L395.3 1096.2 L395.8 1091.3 L396.4 1086.6 L397.0 1082.0 L397.5 1077.7 L398.1 1073.4 L398.6 1069.4 L399.2 1065.4 L399.8 1061.5 L400.3 1057.8 L400.9 1054.1 L401.5 1050.6 L402.0 1047.1 L402.6 1043.7 L403.2 1040.3 L403.7 1037.0 L404.3 1033.8 L404.9 1030.6 L405.4 1027.5 L406.0 1024.4 L406.6 1021.4 L407.1 1018.4 L407.7 1015.5 L408.3 1012.6 L408.8 1009.7 L409.4 1006.9 L409.9 1004.1 L410.5 1001.3 L411.1 998.5 L411.6 995.8 L412.2 993.1 L412.8 990.5 L413.3 987.8 L413.9 985.2 L414.5 982.6 L415.0 980.0 L415.6 977.5 L416.2 975.0 L416.7 972.5 L417.3 970.0 L417.9 967.5 L418.4 965.0 L419.0 962.6 L419.6 960.2 L420.1 957.8 L420.7 955.4 L421.2 953.1 L421.8 950.7 L422.4 948.4 L422.9 946.1 L423.5 943.8 L424.1 941.6 L424.6 939.3 L425.2 937.1 L425.8 934.8 L426.3 932.6 L426.9 930.4 L428.6 923.9 L430.3 917.6 L432.0 911.3 L433.7 905.2 L435.4 899.2 L437.1 893.4 L438.8 887.6 L440.5 882.0 L442.2 876.5 L443.9 871.1 L445.5 865.7 L447.2 860.5 L448.9 855.4 L450.6 850.4 L452.3 845.5 L454.0 840.7 L455.7 836.0 L457.4 831.4 L459.1 826.9 L460.8 822.4 L462.5 818.0 L464.2 813.8 L465.9 809.6 L467.6 805.5 L469.3 801.4 L471.0 797.5 L472.7 793.6 L474.4 789.8 L476.1 786.0 L477.8 782.4 L479.4 778.8 L481.1 775.3 L482.8 771.8 L484.5 768.4 L486.2 765.1 L487.9 761.8 L489.6 758.6 L491.3 755.5 L493.0 752.4 L494.7 749.3 L496.4 746.4 L498.1 743.4 L499.8 740.6 L501.5 737.8 L503.2 735.0 L504.9 732.3 L506.6 729.6 L508.3 727.0 L510.0 724.4 L511.6 721.9 L513.3 719.4 L515.0 717.0 L516.7 714.6 L518.4 712.3 L520.1 710.0 L521.8 707.7 L523.5 705.5 L525.2 703.3 L526.9 701.2 L528.6 699.1 L530.3 697.0 L532.0 695.0 L533.7 693.0 L535.4 691.0 L537.1 689.1 L538.8 687.2 L540.5 685.3 L542.2 683.5 L543.9 681.7 L545.5 679.9 L547.2 678.2 L548.9 676.5 L550.6 674.8 L552.3 673.1 L554.0 671.5 L555.7 669.9 L557.4 668.3 L559.1 666.8 L560.8 665.3 L562.5 663.8 L566.7 660.1 L571.0 656.6 L575.2 653.3 L579.5 650.1 L583.7 647.0 L587.9 644.0 L592.2 641.2 L596.4 638.4 L600.6 635.8 L604.9 633.2 L609.1 630.7 L613.4 628.4 L617.6 626.1 L621.8 623.9 L626.1 621.7 L630.3 619.7 L634.5 617.7 L638.8 615.8 L643.0 613.9 L647.2 612.1 L651.5 610.4 L655.7 608.7 L660.0 607.1 L664.2 605.5 L668.4 604.0 L672.7 602.5 L676.9 601.1 L681.1 599.7 L685.4 598.3 L689.6 597.0 L693.9 595.7 L698.1 594.5 L702.3 593.3 L706.6 592.1 L710.8 590.9 L715.0 589.8 L719.3 588.7 L723.5 587.7 L727.8 586.7 L732.0 585.7 L736.2 584.7 L740.5 583.7 L744.7 582.8 L749.0 581.9 L753.2 581.0 L757.4 580.1 L761.7 579.3 L765.9 578.5 L770.1 577.7 L774.4 576.9 L778.6 576.1 L782.8 575.4 L787.1 574.7 L791.3 573.9 L795.6 573.2 L799.8 572.6 L804.0 571.9 L808.3 571.3 L812.5 570.6 L816.8 570.0 L821.0 569.4 L825.2 568.8 L829.5 568.2 L833.7 567.6 L837.9 567.1 L842.2 566.5 L846.4 566.0 L850.7 565.5 L854.9 565.0 L859.1 564.5 L863.4 564.0 L867.6 563.5 L871.8 563.0 L876.1 562.6 L880.3 562.1 L884.5 561.7 L888.8 561.3 L893.0 560.9 L897.3 560.4 L901.5 560.0 L910.0 559.3 L918.5 558.5 L926.9 557.8 L935.4 557.2 L943.9 556.5 L952.3 555.9 L960.8 555.4 L969.3 554.8 L977.8 554.3 L986.2 553.8 L994.7 553.4 L1003.2 553.0 L1011.7 552.6 L1020.1 552.2 L1028.6 551.8 L1037.1 551.5 L1045.6 551.2 L1054.1 551.0 L1062.5 550.7 L1071.0 550.5 L1079.5 550.3 L1087.9 550.1 L1096.4 549.9 L1104.9 549.8 L1113.4 549.7 L1121.8 549.6 L1130.3 549.5 L1138.8 549.5 L1147.3 549.5 L1155.8 549.4 L1164.2 549.4 L1172.7 549.5 L1181.2 549.5 L1189.7 549.6 L1198.1 549.7 L1206.6 549.8 L1215.1 549.9 L1223.5 550.0 L1232.0 550.2 L1240.5 550.4 L1249.0 550.5 L1257.5 550.7 L1265.9 551.0 L1274.4 551.2 L1282.9 551.5 L1291.3 551.7 L1299.8 552.0 L1308.3 552.3 L1316.8 552.6 L1325.2 552.9 L1333.7 553.3 L1342.2 553.6 L1350.7 554.0 L1359.2 554.4 L1367.6 554.8 L1376.1 555.2 L1384.6 555.6 L1393.0 556.0 L1401.5 556.5 L1410.0 556.9 L1418.5 557.4 L1427.0 557.9 L1435.4 558.4 L1443.9 558.9 L1452.4 559.4 L1460.8 559.9 L1469.3 560.4 L1477.8 561.0 L1486.3 561.6 L1494.8 562.1 L1503.2 562.7 L1511.7 563.3 L1520.2 563.9 L1528.6 564.5 L1537.1 565.1 L1545.6 565.7 L1554.1 566.4 L1562.5 567.0 L1571.0 567.7 L1579.5 568.3 L1588.0 569.0 L1596.5 569.7 L1604.9 570.3 L1613.4 571.0 L1621.9 571.7 L1630.3 572.4 L1638.8 573.2 L1647.3 573.9 L1655.8 574.6 L1664.2 575.3 L1672.7 576.1 L1681.2 576.8 L1689.7 577.6 L1698.2 578.4 L1706.6 579.1 L1715.1 579.9 L1723.6 580.7 L1732.0 581.5 L1740.5 582.3 L1749.0 583.1 L1757.5 583.9 L1766.0 584.7 L1774.4 585.5 L1782.9 586.3 L1791.4 587.1 L1799.9 588.0 L1808.3 588.8 L1816.8 589.6 L1825.3 590.5 L1833.8 591.3 L1842.2 592.2 L1850.7 593.0 L1859.2 593.9 L1867.7 594.7 L1876.1 595.6 L1884.6 596.5 L1893.1 597.4 L1901.5 598.2 L1910.0 599.1 L1918.5 600.0 L1927.0 600.9 L1935.4 601.8 L1943.9 602.7 L1952.4 603.6 L1960.9 604.5 L1969.3 605.4 L1977.8 606.3 L1986.3 607.2 L1994.8 608.1 L2003.2 609.0 L2011.7 609.9 L2020.2 610.8 L2028.7 611.7 L2037.1 612.7 L2045.6 613.6 L2054.1 614.5 L2062.6 615.4 L2071.1 616.4 L2079.5 617.3 L2088.0 618.2"/>
</g>
<g stroke="#000" stroke-width="3.4" fill="#000">
<line x1="522.2" y1="870.2" x2="700.9" y2="919.9"/>
<polygon stroke="none" points="726.4,927.0 696.2,933.1 703.7,906.1"/>
<line x1="593.4" y1="737.3" x2="909.9" y2="785.1"/>
<polygon stroke="none" points="936.1,789.1 906.8,798.8 911.0,771.1"/>
<line x1="678.9" y1="660.1" x2="767.3" y2="526.1"/>
<polygon stroke="none" points="781.9,504.0 778.4,534.7 755.1,519.2"/>
<line x1="550.4" y1="702.6" x2="544.6" y2="579.3"/>
<polygon stroke="none" points="543.3,552.8 558.6,579.6 530.6,580.9"/>
<line x1="996.8" y1="550.6" x2="1086.1" y2="416.3"/>
<polygon stroke="none" points="1100.8,394.2 1097.2,424.9 1073.9,409.3"/>
</g>
<text transform="translate(458.8 524.1) scale(1 1.02)" font-size="80">10 s<tspan dy="-23.5" font-size="54.5">−1</tspan></text>
<text transform="translate(765.1 468.2) scale(1 1.02)" font-size="80">1 s<tspan dy="-23.5" font-size="54.5">−1</tspan></text>
<text transform="translate(1072.9 367.2) scale(1 1.02)" font-size="80">100 s<tspan dy="-23.5" font-size="54.5">−1</tspan></text>
<text transform="translate(969.8 828.0) scale(1 1.02)" font-size="80">0.1 s<tspan dy="-23.5" font-size="54.5">−1</tspan></text>
<text transform="translate(753 992.0) scale(1 1.02)" font-size="80">0.001 s<tspan dy="-23.5" font-size="54.5">−1</tspan></text>
<text transform="translate(331 1901.0) scale(1 1.017)" font-size="72" text-anchor="end">0</text>
<text transform="translate(331 1603.5) scale(1 1.017)" font-size="72" text-anchor="end">200</text>
<text transform="translate(331 1306.0) scale(1 1.017)" font-size="72" text-anchor="end">400</text>
<text transform="translate(331 1008.5) scale(1 1.017)" font-size="72" text-anchor="end">600</text>
<text transform="translate(331 711.0) scale(1 1.017)" font-size="72" text-anchor="end">800</text>
<text transform="translate(331 413.5) scale(1 1.017)" font-size="72" text-anchor="end">1000</text>
<text transform="translate(331 116.0) scale(1 1.017)" font-size="72" text-anchor="end">1200</text>
<text transform="translate(392.6 1986.2) scale(1 1.017)" font-size="72" text-anchor="middle">0</text>
<text transform="translate(731.6 1986.2) scale(1 1.017)" font-size="72" text-anchor="middle">0.2</text>
<text transform="translate(1070.6 1986.2) scale(1 1.017)" font-size="72" text-anchor="middle">0.4</text>
<text transform="translate(1409.6 1986.2) scale(1 1.017)" font-size="72" text-anchor="middle">0.6</text>
<text transform="translate(1748.6 1986.2) scale(1 1.017)" font-size="72" text-anchor="middle">0.8</text>
<text transform="translate(2087.6 1986.2) scale(1 1.017)" font-size="72" text-anchor="middle">1</text>
<text x="1239.6" y="2090.2" font-size="80" text-anchor="middle">Equivalent plastic strain</text>
<text transform="translate(142.6 986) rotate(-90)" font-size="80.3" text-anchor="middle">Equvialent true stress (MPa)</text>
</svg></body></html>
